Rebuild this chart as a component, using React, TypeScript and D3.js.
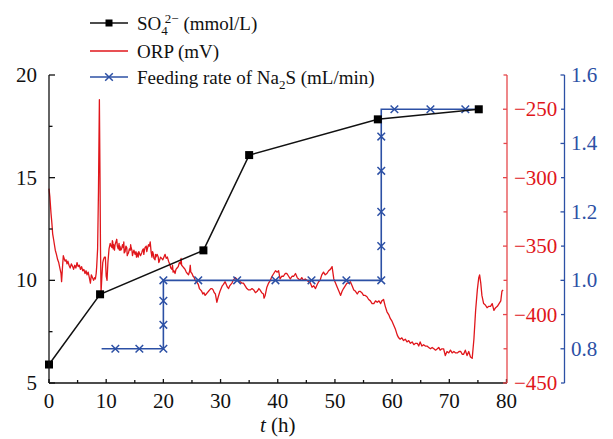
import React from "react";
import * as d3 from "d3";

const so4Data: [number, number][] = [
  [0, 5.9], [8.93, 9.32], [27.0, 11.46], [35.0, 16.1], [57.5, 17.84], [75.15, 18.33],
];

const feedLine: [number, number][] = [
  [9.2, 0.8], [20, 0.8], [20, 1.0], [58.1, 1.0], [58.1, 1.5], [74.6, 1.5],
];
const feedMarkers: [number, number][] = [
  [11.6, 0.8], [15.8, 0.8], [20, 0.8], [20, 0.87], [20, 0.94], [20, 1.0],
  [26.1, 1.0], [32.9, 1.0], [39.6, 1.0], [45.9, 1.0], [52, 1.0], [58.1, 1.0],
  [58.1, 1.1], [58.1, 1.2], [58.1, 1.32], [58.1, 1.42],
  [60.4, 1.5], [66.7, 1.5], [72.8, 1.5],
];

const orpData: [number, number][] = [
  [0.0,-308],[0.15,-314],[0.35,-326],[0.5,-333],[0.64,-341],[0.8,-345],[0.95,-349],[1.1,-353],[1.3,-356],[1.52,-360],[1.7,-362],[1.9,-366],[2.1,-370],[2.2,-376],[2.35,-366],[2.5,-357],[2.65,-359],[2.8,-361],[2.98,-360],[3.15,-363],[3.3,-361],[3.5,-364],[3.7,-366],[3.9,-363],[4.14,-365],[4.3,-367],[4.5,-364],[4.7,-366],[4.9,-362],[5.1,-365],[5.31,-364],[5.5,-367],[5.7,-365],[5.9,-368],[6.1,-367],[6.3,-370],[6.48,-368],[6.65,-371],[6.85,-369],[7.05,-373],[7.24,-377],[7.4,-371],[7.6,-373],[7.8,-375],[8.0,-373],[8.11,-374],[8.25,-370],[8.34,-365],[8.5,-352],[8.65,-310],[8.81,-243],[8.92,-300],[9.0,-350],[9.1,-384],[9.25,-372],[9.4,-362],[9.51,-360],[9.7,-358],[9.86,-358],[10.0,-372],[10.15,-375],[10.3,-362],[10.5,-352],[10.7,-348],[10.85,-350],[11.0,-351],[11.08,-346],[11.15,-347],[11.22,-352],[11.3,-349],[11.45,-353],[11.55,-349],[11.7,-347],[11.85,-345],[11.95,-350],[12.1,-352],[12.25,-348],[12.32,-353],[12.4,-350],[12.55,-353],[12.7,-352],[12.85,-349],[13.0,-351],[13.08,-347],[13.15,-355],[13.3,-354],[13.45,-350],[13.6,-351],[13.68,-357],[13.75,-356],[13.9,-355],[14.05,-352],[14.2,-353],[14.28,-349],[14.35,-351],[14.5,-353],[14.6,-357],[14.7,-355],[14.85,-353],[15.05,-356],[15.2,-354],[15.3,-358],[15.4,-355],[15.6,-358],[15.7,-354],[15.8,-355],[16.0,-357],[16.2,-355],[16.35,-353],[16.5,-352],[16.58,-356],[16.65,-354],[16.8,-351],[17.0,-350],[17.1,-354],[17.2,-352],[17.4,-349],[17.55,-350],[17.7,-347],[17.85,-354],[18.0,-358],[18.1,-354],[18.2,-355],[18.35,-359],[18.55,-360],[18.62,-356],[18.7,-358],[18.9,-356],[19.1,-358],[19.2,-362],[19.3,-361],[19.5,-358],[19.7,-359],[19.9,-360],[20.1,-358],[20.3,-356],[20.5,-359],[20.7,-358],[20.9,-361],[21.1,-363],[21.3,-366],[21.5,-367],[21.6,-364],[21.7,-369],[21.85,-368],[22.05,-370],[22.2,-367],[22.4,-366],[22.6,-365],[22.8,-362],[23.0,-363],[23.1,-359],[23.2,-364],[23.4,-365],[23.6,-366],[23.8,-367],[24.0,-369],[24.2,-370],[24.4,-371],[24.6,-368],[24.7,-364],[24.8,-369],[25.0,-370],[25.2,-372],[25.4,-373],[25.55,-375],[25.8,-376],[26.1,-378],[26.3,-381],[26.5,-382],[26.7,-383],[26.9,-385],[27.1,-384],[27.3,-386],[27.5,-385],[27.7,-384],[27.9,-383],[28.1,-382],[28.3,-381],[28.5,-381],[28.7,-382],[28.9,-384],[29.1,-385],[29.35,-391],[29.6,-387],[29.9,-383],[30.1,-381],[30.3,-379],[30.5,-378],[30.8,-376],[31.0,-378],[31.2,-380],[31.4,-381],[31.6,-379],[31.8,-378],[32.0,-377],[32.2,-375],[32.4,-374],[32.6,-373],[32.8,-374],[33.1,-375],[33.44,-376],[33.7,-377],[34.0,-377],[34.3,-379],[34.6,-381],[34.9,-382],[35.2,-382],[35.5,-381],[35.8,-382],[36.1,-384],[36.4,-383],[36.7,-381],[36.9,-382],[37.2,-384],[37.5,-385],[37.6,-388],[37.8,-386],[38.1,-380],[38.4,-377],[38.7,-375],[39.0,-372],[39.3,-370],[39.6,-368],[39.9,-369],[40.15,-368],[40.4,-374],[40.7,-372],[41.0,-372],[41.3,-370],[41.6,-370],[41.9,-372],[42.2,-374],[42.5,-372],[42.8,-372],[43.1,-370],[43.4,-373],[43.65,-374],[43.9,-375],[44.2,-373],[44.5,-375],[44.8,-374],[45.1,-375],[45.4,-376],[45.7,-377],[46.0,-380],[46.3,-379],[46.6,-381],[46.9,-378],[47.15,-376],[47.4,-375],[47.7,-371],[48.0,-369],[48.3,-371],[48.6,-370],[48.9,-368],[49.2,-367],[49.5,-365],[49.8,-374],[50.1,-377],[50.4,-380],[50.7,-383],[51.0,-386],[51.25,-383],[51.5,-381],[51.8,-379],[52.1,-377],[52.4,-377],[52.7,-376],[53.0,-379],[53.3,-382],[53.6,-383],[53.9,-385],[54.2,-383],[54.4,-383],[54.7,-384],[55.0,-386],[55.3,-386],[55.6,-387],[55.9,-389],[56.2,-390],[56.5,-392],[56.8,-392],[57.1,-390],[57.4,-391],[57.7,-390],[58.0,-392],[58.2,-390],[58.5,-389],[58.8,-394],[59.1,-398],[59.4,-400],[59.7,-403],[60.0,-405],[60.3,-408],[60.6,-411],[60.9,-415],[61.15,-417],[61.4,-418],[61.7,-417],[62.0,-419],[62.3,-418],[62.6,-420],[62.9,-419],[63.2,-421],[63.5,-420],[63.8,-422],[64.1,-421],[64.4,-421],[64.65,-423],[64.9,-420],[65.2,-423],[65.5,-422],[65.8,-423],[66.1,-423],[66.4,-424],[66.7,-425],[67.0,-424],[67.3,-425],[67.6,-426],[67.9,-425],[68.15,-424],[68.4,-426],[68.7,-425],[69.0,-425],[69.3,-430],[69.6,-427],[69.9,-428],[70.2,-426],[70.5,-428],[70.8,-427],[71.1,-428],[71.4,-428],[71.7,-427],[72.0,-427],[72.25,-429],[72.5,-429],[72.8,-426],[73.1,-430],[73.4,-427],[73.7,-431],[74.0,-432],[74.3,-418],[74.6,-397],[74.9,-382],[75.15,-373],[75.3,-371],[75.5,-377],[75.7,-386],[76.0,-392],[76.3,-393],[76.6,-395],[76.9,-394],[77.2,-394],[77.5,-392],[77.8,-397],[78.1,-395],[78.4,-394],[78.7,-392],[79.0,-390],[79.2,-383],[79.4,-382],
];

const xTicks = [0, 10, 20, 30, 40, 50, 60, 70, 80];
const xMinor = [5, 15, 25, 35, 45, 55, 65, 75];
const leftTicks = [5, 10, 15, 20];
const leftMinor = [7.5, 12.5, 17.5];
const redTicks = [-450, -400, -350, -300, -250];
const redMinor = [-425, -375, -325, -275, -225];
const blueTicks = [0.8, 1.0, 1.2, 1.4, 1.6];
const blueMinor = [0.7, 0.9, 1.1, 1.3, 1.5];

const W = 613, H = 439;
const X0 = 49, X1 = 506.5, YT = 75, YB = 383;
const RED_AX = 507, BLUE_AX = 564.5;
const BLACK = "#111";
const RED = "#e0161b";
const RED_AXIS = "#e5474b";
const BLUE = "#2c50a5";
const FONT = "'Liberation Serif', 'Times New Roman', serif";

const fmtMinus = (v: number) => (v < 0 ? "\u2212" + Math.abs(v) : String(v));

export default function App() {
  const x = d3.scaleLinear().domain([0, 80]).range([X0, X1]);
  const yL = d3.scaleLinear().domain([5, 20]).range([YB, YT]);
  const yR = d3.scaleLinear().domain([-450, -225]).range([YB, YT]);
  const yBl = d3.scaleLinear().domain([0.7, 1.6]).range([YB, YT]);

  const so4Line = d3.line<[number, number]>().x((d) => x(d[0])).y((d) => yL(d[1]))(so4Data) || "";
  const orpLine = d3.line<[number, number]>().x((d) => x(d[0])).y((d) => yR(d[1]))(orpData) || "";
  const feedPath = d3.line<[number, number]>().x((d) => x(d[0])).y((d) => yBl(d[1]))(feedLine) || "";

  const cross = (cx: number, cy: number, s: number, key: string | number) => (
    <path key={key} d={`M${cx - s},${cy - s}L${cx + s},${cy + s}M${cx - s},${cy + s}L${cx + s},${cy - s}`} stroke={BLUE} strokeWidth={1.5} fill="none" />
  );

  return (
    <svg width={W} height={H} style={{ position: "absolute", left: 0, top: 0, background: "#fff" }} fontFamily={FONT}>
      <rect x={0} y={0} width={W} height={H} fill="#fff" />
      {/* ORP line */}
      <path d={orpLine} fill="none" stroke={RED} strokeWidth={1.3} strokeLinejoin="round" />
      {/* Feeding line */}
      <path d={feedPath} fill="none" stroke={BLUE} strokeWidth={1.6} />
      {feedMarkers.map((d, i) => cross(x(d[0]), yBl(d[1]), 3.8, "f" + i))}
      {/* SO4 line */}
      <path d={so4Line} fill="none" stroke={BLACK} strokeWidth={1.5} />
      {so4Data.map((d, i) => (
        <rect key={"s" + i} x={x(d[0]) - 4} y={yL(d[1]) - 4} width={8} height={8} fill="#000" />
      ))}

      {/* Left axis */}
      <line x1={X0} y1={YT} x2={X0} y2={YB} stroke={BLACK} strokeWidth={1.3} />
      {leftTicks.map((v) => (
        <g key={"lt" + v}>
          <line x1={X0} x2={X0 + 6} y1={yL(v)} y2={yL(v)} stroke={BLACK} strokeWidth={1.3} />
          <text x={37} y={yL(v) + 7} textAnchor="end" fontSize={21} fill="#111">{v}</text>
        </g>
      ))}
      {leftMinor.map((v) => (
        <line key={"lm" + v} x1={X0} x2={X0 + 3.5} y1={yL(v)} y2={yL(v)} stroke={BLACK} strokeWidth={1.3} />
      ))}

      {/* X axis */}
      <line x1={X0} y1={YB} x2={RED_AX} y2={YB} stroke={BLACK} strokeWidth={1.3} />
      {xTicks.map((v) => (
        <g key={"xt" + v}>
          <line x1={x(v)} x2={x(v)} y1={YB} y2={YB - 4} stroke={BLACK} strokeWidth={1.3} />
          <text x={x(v)} y={408} textAnchor="middle" fontSize={21} fill="#111">{v}</text>
        </g>
      ))}
      {xMinor.map((v) => (
        <line key={"xm" + v} x1={x(v)} x2={x(v)} y1={YB} y2={YB - 3} stroke={BLACK} strokeWidth={1.3} />
      ))}
      <text x={(X0 + X1) / 2} y={432} textAnchor="middle" fontSize={21} fill="#111">
        <tspan fontStyle="italic">t</tspan> (h)
      </text>

      {/* Red axis */}
      <line x1={RED_AX} y1={YT} x2={RED_AX} y2={YB} stroke={RED_AXIS} strokeWidth={1.3} />
      {redTicks.map((v) => (
        <g key={"rt" + v}>
          <line x1={RED_AX} x2={RED_AX - 4} y1={yR(v)} y2={yR(v)} stroke={RED_AXIS} strokeWidth={1.3} />
          <text x={514} y={yR(v) + 7} textAnchor="start" fontSize={21} fill={RED}>{fmtMinus(v)}</text>
        </g>
      ))}
      {redMinor.map((v) => (
        <line key={"rm" + v} x1={RED_AX} x2={RED_AX - 3.5} y1={yR(v)} y2={yR(v)} stroke={RED_AXIS} strokeWidth={1.3} />
      ))}

      {/* Blue axis */}
      <line x1={BLUE_AX} y1={YT} x2={BLUE_AX} y2={YB} stroke={BLUE} strokeWidth={1.3} />
      {blueTicks.map((v) => (
        <g key={"bt" + v}>
          <line x1={BLUE_AX} x2={BLUE_AX - 4} y1={yBl(v)} y2={yBl(v)} stroke={BLUE} strokeWidth={1.3} />
          <text x={571} y={yBl(v) + 7} textAnchor="start" fontSize={21} fill={BLUE}>{v.toFixed(1)}</text>
        </g>
      ))}
      {blueMinor.map((v) => (
        <line key={"bm" + v} x1={BLUE_AX} x2={BLUE_AX - 3.5} y1={yBl(v)} y2={yBl(v)} stroke={BLUE} strokeWidth={1.3} />
      ))}

      {/* Legend */}
      <g fontSize={19}>
        <line x1={90} x2={128} y1={23} y2={23} stroke={BLACK} strokeWidth={1.5} />
        <rect x={105.5} y={19.5} width={7} height={7} fill="#000" />
        <text x={137} y={29.5} fill="#111">
          SO<tspan fontSize={13} dy={5}>4</tspan><tspan fontSize={13} dy={-12} dx={-3}>2−</tspan><tspan dy={7}> (mmol/L)</tspan>
        </text>
        <line x1={90} x2={128} y1={51} y2={51} stroke={RED} strokeWidth={1.3} />
        <text x={137} y={57.5} fill="#111">ORP (mV)</text>
        <line x1={90} x2={128} y1={77} y2={77} stroke={BLUE} strokeWidth={1.5} />
        {cross(109, 77, 3.8, "lg")}
        <text x={137} y={83.5} fill="#111">
          Feeding rate of Na<tspan fontSize={13} dy={5}>2</tspan><tspan dy={-5}>S (mL/min)</tspan>
        </text>
      </g>
    </svg>
  );
}
